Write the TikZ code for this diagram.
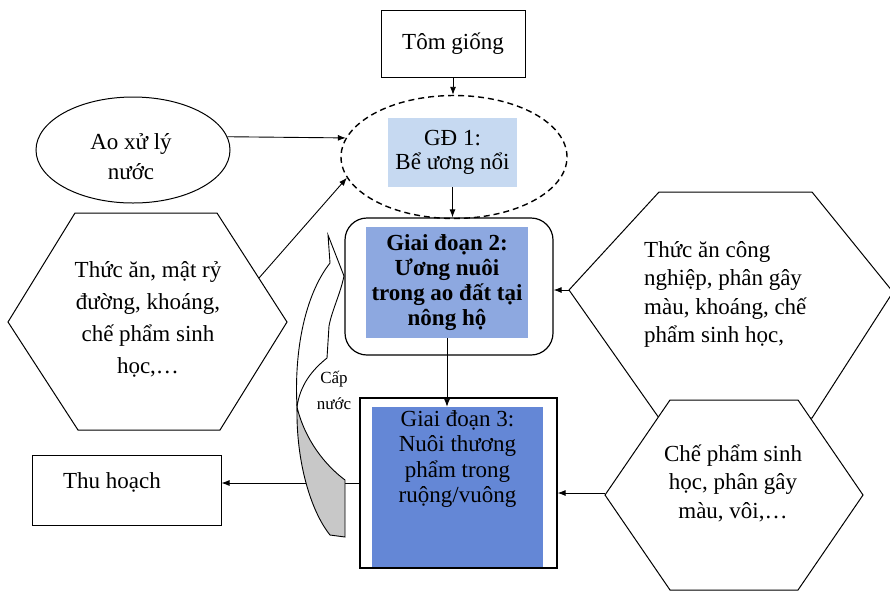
\documentclass[tikz,border=0pt]{standalone}
\usepackage{fontspec}
\setmainfont{Liberation Serif}
\usetikzlibrary{shapes.geometric,arrows.meta}
\definecolor{gdone}{RGB}{198,217,241}
\definecolor{gdtwo}{RGB}{141,168,224}
\definecolor{gdthree}{RGB}{100,135,214}
\definecolor{backface}{RGB}{200,200,200}
\begin{document}
\begin{tikzpicture}[x=1pt,y=-1pt,
  arr/.style={-{Latex[length=8pt,width=6pt]},line width=0.9pt},
  txt/.style={font=\fontsize{23}{28}\selectfont, align=center, inner sep=0pt},
  boxline/.style={draw, line width=1pt},
  hexs/.style={draw, line width=1pt, fill=white}]
\useasboundingbox (0,0) rectangle (890,590);
\fill[white] (0,0) rectangle (890,590);

% top box
\node[boxline, minimum width=144pt, minimum height=67pt, txt] (tom) at (453,43.5) {Tôm giống};

% dashed ellipse and stage 1
\node[ellipse, draw, dash pattern=on 6pt off 4pt, line width=1.4pt, minimum width=226pt, minimum height=123pt] (ell) at (454,157) {};
\node[fill=gdone, minimum width=129pt, minimum height=69pt, txt, font=\fontsize{23}{24}\selectfont] (gd1) at (452.5,152.5) {GĐ 1:\\Bể ương nổi};

% stage 2
\node[draw, rounded corners=22pt, line width=1.2pt, minimum width=208pt, minimum height=137pt] (gd2) at (449,286.5) {};
\node[fill=gdtwo, minimum width=162pt, minimum height=111pt, inner sep=0pt] (gd2in) at (447,282.5) {};
\node[txt, font=\bfseries\fontsize{23}{25}\selectfont] (gd2t) at (gd2in) {Giai đoạn 2:\\Ương nuôi\\trong ao đất tại\\nông hộ};

% stage 3
\node[draw, line width=1.2pt, minimum width=197pt, minimum height=170pt] (gd3) at (458.5,483) {};
\node[fill=gdthree, minimum width=171pt, minimum height=160pt, inner sep=0pt] (gd3in) at (457.5,487) {};
\node[txt, font=\fontsize{23}{25.5}\selectfont] (gd3t) at (457.5,459) {Giai đoạn 3:\\Nuôi thương\\phẩm trong\\ruộng/vuông};

% water pond
\node[ellipse, boxline, minimum width=194pt, minimum height=106pt] (ao) at (133,150) {};
\node[txt, font=\fontsize{23}{30}\selectfont] (aot) at (131,157) {Ao xử lý\\nước};

% left hexagon
\draw[hexs] (75,213) -- (217,213) -- (287,322) -- (220,430) -- (78,430) -- (8,322) -- cycle;
\node[txt, font=\fontsize{23}{32}\selectfont] (hexLt) at (148,319) {Thức ăn, mật rỷ\\đường, khoáng,\\chế phẩm sinh\\học,…};
\coordinate (hexLur) at (259,278);

% right hexagons
\draw[hexs] (659,192) -- (812,192) -- (893,292) -- (812,418) -- (659,418) -- (569,290) -- cycle;
\coordinate (hexRaw) at (569,290);
\node[txt, align=left, anchor=west, font=\fontsize{23}{28.3}\selectfont] (hexRat) at (644,294.5) {Thức ăn công\\nghiệp, phân gây\\màu, khoáng, chế\\phẩm sinh học,};
\draw[hexs] (670,400) -- (798,400) -- (863,495) -- (798,590) -- (670,590) -- (605,495) -- cycle;
\coordinate (hexRbw) at (605,493);
\node[txt, font=\fontsize{23}{28.5}\selectfont] (hexRbt) at (733,483) {Chế phẩm sinh\\học, phân gây\\màu, vôi,…};

% harvest
\node[boxline, minimum width=189pt, minimum height=70pt] (thu) at (126.5,490) {};
\node[txt] (thut) at (112,482) {Thu hoạch};

% connectors
\draw[arr] (tom.south) -- (tom.south |- ell.north);
\draw[arr] (ao.8) -- (ell.170);
\draw[arr] (hexLur) -- (ell.191);
\draw[arr] (gd1.south) -- (gd1.south |- gd2.north);
\draw[arr] (hexRaw) -- (hexRaw -| gd2.east);
\draw[arr] (gd2in.south) -- (gd2in.south |- gd3in.north);
\draw[arr] (hexRbw) -- (hexRbw -| gd3.east);
\draw[arr] (gd3.west) -- (gd3.west -| thu.east);

% curved "water supply" arrow
\draw[line width=0.9pt, fill=white] (328,235) -- (344,276) .. controls (340,295) and (332,310) .. (329,326) -- (327,358) .. controls (312,370) and (300,385) .. (297,407) .. controls (294,350) and (305,295) .. (330,263) -- cycle;
\draw[line width=0.9pt, fill=backface] (297,407) .. controls (296,460) and (310,510) .. (330,535) -- (345,537) -- (345,480) .. controls (325,465) and (305,440) .. (297,407) -- cycle;
\node[txt, font=\fontsize{17}{26}\selectfont] (cap) at (334,390) {Cấp\\nước};
\end{tikzpicture}
\end{document}
